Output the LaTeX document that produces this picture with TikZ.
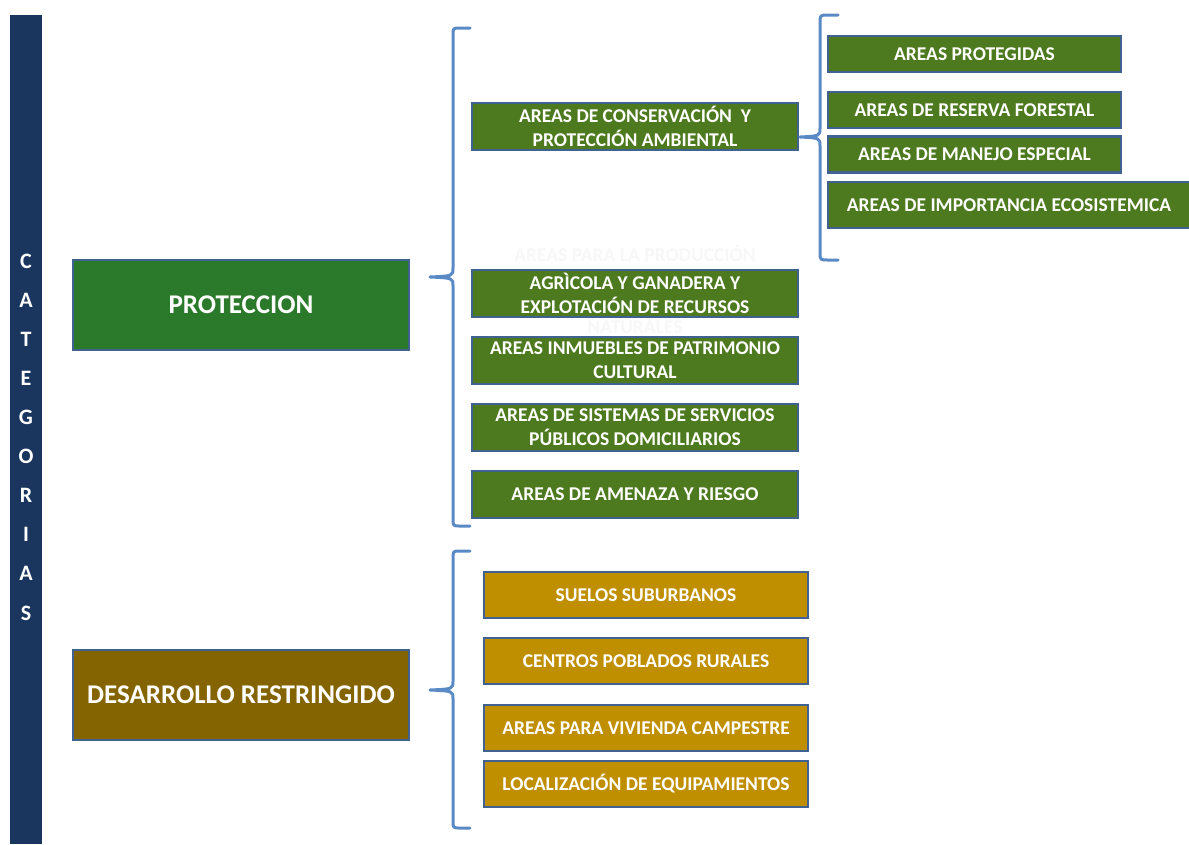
\documentclass[tikz,border=0pt]{standalone}
\usepackage{fontspec}
\setmainfont{Carlito}
\definecolor{barblue}{HTML}{1B365E}
\definecolor{bigGreen}{HTML}{2B7A2B}
\definecolor{oliveGreen}{HTML}{4E7A1F}
\definecolor{brownDark}{HTML}{846400}
\definecolor{goldBox}{HTML}{BF8F00}
\definecolor{boxBorder}{HTML}{3F6290}
\definecolor{braceBlue}{HTML}{5A8AC6}
\tikzset{
  basebox/.style={draw=boxBorder, line width=2.8pt, text=white, align=center, inner sep=0pt, font=\bfseries\fontsize{19.5}{24}\selectfont},
  bigbox/.style={basebox, minimum width=336pt, minimum height=90pt, font=\bfseries\fontsize{27}{30}\selectfont},
  greenbox/.style={basebox, fill=oliveGreen, minimum width=326pt, minimum height=47pt},
  rightbox/.style={basebox, fill=oliveGreen, minimum width=293pt, minimum height=36pt},
  goldbox/.style={basebox, fill=goldBox, minimum width=324pt, minimum height=46pt},
  bracepath/.style={draw=braceBlue, line width=3pt, line cap=round, line join=round},
  ghost/.style={text=white!97!black, font=\bfseries\fontsize{19.5}{20}\selectfont}
}
\begin{document}
\begin{tikzpicture}[x=1pt,y=-1pt]
\useasboundingbox (0,0) rectangle (1189,844);
% left bar
\fill[barblue] (10,15) rectangle (42,844);
\node[text=white, align=center, font=\bfseries\fontsize{22}{39.1}\selectfont, inner sep=0pt] (cat) at (26,437) {C\\A\\T\\E\\G\\O\\R\\I\\A\\S};
% main boxes
\node[bigbox, fill=bigGreen] (prot) at (241,305) {PROTECCION};
\node[bigbox, fill=brownDark] (desa) at (241,695) {DESARROLLO RESTRINGIDO};
% protection sub-boxes
\node[greenbox] (cons) at (635,126.5) {AREAS DE CONSERVACIÓN\ \ Y\\PROTECCIÓN AMBIENTAL};
\node[ghost] (prodA) at (635,253) {AREAS PARA LA PRODUCCIÓN};
\node[greenbox] (agri) at (635,293.5) {AGRÌCOLA Y GANADERA Y\\EXPLOTACIÓN DE RECURSOS};
\node[ghost] (prodB) at (635,327) {NATURALES};
\node[greenbox] (inmu) at (635,360.5) {AREAS INMUEBLES DE PATRIMONIO\\CULTURAL};
\node[greenbox] (serv) at (635,427.5) {AREAS DE SISTEMAS DE SERVICIOS\\PÚBLICOS DOMICILIARIOS};
\node[greenbox] (amen) at (635,494.5) {AREAS DE AMENAZA Y RIESGO};
% right boxes
\node[rightbox] (prtg) at (974.5,54) {AREAS PROTEGIDAS};
\node[rightbox] (rese) at (974.5,110) {AREAS DE RESERVA FORESTAL};
\node[rightbox] (mane) at (974.5,154.5) {AREAS DE MANEJO ESPECIAL};
\node[basebox, fill=oliveGreen, minimum width=362pt, minimum height=46pt] (impo) at (1009,205) {AREAS DE IMPORTANCIA ECOSISTEMICA};
% gold boxes
\node[goldbox] (subu) at (646,595) {SUELOS SUBURBANOS};
\node[goldbox] (cent) at (646,661) {CENTROS POBLADOS RURALES};
\node[goldbox] (vivi) at (646,728) {AREAS PARA VIVIENDA CAMPESTRE};
\node[goldbox] (loca) at (646,784) {LOCALIZACIÓN DE EQUIPAMIENTOS};
% braces
\draw[bracepath] (470,28) -- (460,28) .. controls (453,28) .. (453,36) -- (453,268) .. controls (453,276) .. (430,277)
  .. controls (453,278) .. (453,286) -- (453,518) .. controls (453,526) .. (460,526) -- (470,526);
\draw[bracepath] (470,551) -- (460,551) .. controls (453,551) .. (453,559) -- (453,681) .. controls (453,689) .. (430,690)
  .. controls (453,691) .. (453,699) -- (453,820) .. controls (453,828) .. (460,828) -- (470,828);
\draw[bracepath] (838,15) -- (828,15) .. controls (820,15) .. (820,23) -- (820,128) .. controls (820,136) .. (800,137)
  .. controls (820,138) .. (820,146) -- (820,252) .. controls (820,260) .. (828,260) -- (838,260);
\end{tikzpicture}
\end{document}
